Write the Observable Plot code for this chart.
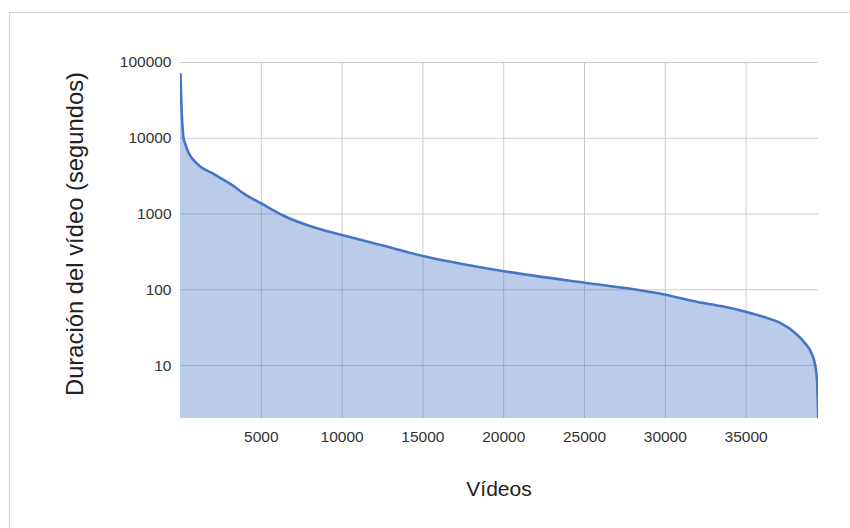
<!DOCTYPE html>
<html>
<head>
<meta charset="utf-8">
<script src="https://cdn.jsdelivr.net/npm/d3@7"></script>
<script src="https://cdn.jsdelivr.net/npm/@observablehq/plot@0.6"></script>
<style>
  body { margin: 0; background: #fff; }
  #wrap { position: relative; width: 850px; height: 528px; overflow: hidden; font-family: "Liberation Sans", Arial, sans-serif; background: #fff; }
  #frame { position: absolute; left: 9px; top: 12px; width: 900px; height: 600px; border: 1px solid #d6d6d6; box-sizing: border-box; }
  #chart { position: absolute; left: 0; top: 0; }
  .xlabel { position: absolute; left: 0; width: 998px; top: 478px; text-align: center; font-size: 21px; line-height: 21px; color: #222; }
  .ylabel { position: absolute; left: 75px; top: 234px; transform: translate(-50%, -50%) rotate(-90deg); white-space: nowrap; font-size: 23.8px; line-height: 24px; color: #222; }
</style>
</head>
<body>
<div id="wrap">
  <div id="frame"></div>
  <div id="chart"></div>
  <div class="xlabel">Vídeos</div>
  <div class="ylabel">Duración del vídeo (segundos)</div>
</div>
<script>
// Video rank (sorted by duration, descending)
const videos = [0, 25, 60, 90, 190, 290, 450, 600, 900, 1220, 1530, 2045, 2500, 3080, 4115, 5000, 6380, 8040, 10000, 12580, 14990, 16710, 20010, 25020, 27860, 30010, 32000, 33440, 35030, 36120, 37160, 37980, 38600, 39020, 39260, 39390, 39440, 39460];
// Duration in seconds
const duration = [70000, 45000, 26000, 19000, 10000, 8500, 6800, 5900, 4900, 4250, 3850, 3400, 2950, 2500, 1750, 1380, 950, 690, 530, 380, 280, 235, 176, 124, 103, 86, 69, 61, 51, 43.6, 36, 27.6, 20.3, 15, 10.5, 6.3, 3, 2];
const yTicks = [10, 100, 1000, 10000, 100000];
const xTicks = [5000, 10000, 15000, 20000, 25000, 30000, 35000];

const data = videos.map((v, i) => ({x: v, y: duration[i]}));
const yMin = 2;
const lineColor = "#4675c6";

const chart = Plot.plot({
  width: 850,
  height: 528,
  marginLeft: 180,
  marginRight: 32,
  marginTop: 62,
  marginBottom: 110,
  style: { fontFamily: "Liberation Sans, Arial, sans-serif", fontSize: "15.5px", color: "#333", background: "transparent" },
  x: { domain: [0, 39480], ticks: xTicks, tickFormat: d => String(d), tickSize: 0, tickPadding: 12, label: null },
  y: { type: "log", domain: [yMin, 100000], ticks: yTicks, tickFormat: d => String(d), tickSize: 0, tickPadding: 9, label: null },
  marks: [
    Plot.gridX(xTicks, { stroke: "#cccccc", strokeOpacity: 1, strokeWidth: 1 }),
    Plot.gridY(yTicks, { stroke: "#cccccc", strokeOpacity: 1, strokeWidth: 1 }),
    Plot.areaY(data, { x: "x", y1: () => yMin, y2: "y", fill: lineColor, fillOpacity: 0.37, curve: "monotone-x", clip: true }),
    Plot.lineY(data, { x: "x", y: "y", stroke: lineColor, strokeWidth: 2.6, curve: "monotone-x", clip: true }),
    Plot.axisX({ ticks: xTicks, tickFormat: d => String(d), tickSize: 0, tickPadding: 12, label: null, fill: "#333" }),
    Plot.axisY({ ticks: yTicks, tickFormat: d => String(d), tickSize: 0, tickPadding: 9, label: null, fill: "#333" })
  ]
});
document.getElementById("chart").appendChild(chart);
</script>
</body>
</html>
